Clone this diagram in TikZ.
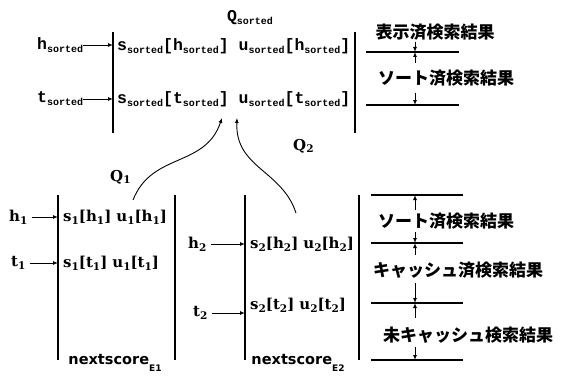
\documentclass[tikz,border=0pt]{standalone}
\usepackage{fontspec}
\usetikzlibrary{arrows.meta}
\newfontfamily\jpf{Noto Sans CJK JP}
\newfontfamily\monof{Liberation Mono}
\newfontfamily\serf{DejaVu Serif}
\newfontfamily\sanf{DejaVu Sans}
\newcommand\sbs[1]{\raisebox{-0.35ex}{\fontsize{10}{10}\selectfont\bfseries #1}}
\newcommand\sbn[1]{\raisebox{-0.35ex}{\fontsize{10.5}{10.5}\selectfont\bfseries #1}}
\tikzset{
  arr/.style={-{Latex[length=5pt,width=4pt]}, line width=0.9pt},
  bar/.style={line width=1.4pt},
  hl/.style={line width=1.2pt},
  mono/.style={inner sep=0pt, anchor=west, font=\monof\bfseries\fontsize{16.5}{16.5}\selectfont},
  serl/.style={inner sep=0pt, anchor=west, font=\serf\bfseries\fontsize{15}{15}\selectfont},
  jp/.style={inner sep=0pt, font=\jpf\bfseries\fontsize{17}{17}\selectfont},
  nsc/.style={inner sep=0pt, font=\sanf\bfseries\fontsize{14.5}{14.5}\selectfont},
  dim/.style={-{Latex[length=5pt,width=4pt]}, line width=1pt}
}
\begin{document}
\begin{tikzpicture}[x=1pt,y=-1pt]
\useasboundingbox (0,0) rectangle (561,377);
% ---------- Q_sorted ----------
\node[inner sep=0pt, font=\monof\bfseries\fontsize{16.5}{16.5}\selectfont] (qs) at (250,18) {Q\sbs{sorted}};
\coordinate (L1a) at (113,32); \coordinate (L1b) at (113,133);
\coordinate (R1a) at (355,32); \coordinate (R1b) at (355,133);
\draw[bar] (L1a) -- (L1b);
\draw[bar] (R1a) -- (R1b);
\node[mono] (hs) at (37,45) {h\sbs{sorted}};
\node[mono] (ts) at (37,99) {t\sbs{sorted}};
\draw[arr] (hs.east) -- (L1a |- hs.east);
\draw[arr] (ts.east) -- (L1a |- ts.east);
\node[mono] (rowh) at (117,46) {s\sbs{sorted}[h\sbs{sorted}] u\sbs{sorted}[h\sbs{sorted}]};
\node[mono] (rowt) at (117,99) {s\sbs{sorted}[t\sbs{sorted}] u\sbs{sorted}[t\sbs{sorted}]};
% right labels top
\coordinate (H1a) at (366,52); \coordinate (H1b) at (459,52);
\coordinate (H2a) at (366,105); \coordinate (H2b) at (459,105);
\draw[hl] (H1a) -- (H1b);
\draw[hl] (H2a) -- (H2b);
\node[jp] (lab1) at (435,32) {表示済検索結果};
\node[jp] (lab2) at (446,78) {ソート済検索結果};
\coordinate (a1) at (415,42); \coordinate (a2) at (415,63); \coordinate (a3) at (415,93);
\draw[dim] (a1) -- (415,52);
\draw[dim] (a2) -- (415,52);
\draw[dim] (a3) -- (415,105);
% ---------- panel 1 ----------
\coordinate (P1La) at (58,195); \coordinate (P1Lb) at (58,360);
\coordinate (P1Ra) at (175,195); \coordinate (P1Rb) at (175,360);
\draw[bar] (P1La) -- (P1Lb);
\draw[bar] (P1Ra) -- (P1Rb);
\node[serl] (h1) at (9,217) {h\sbn{1}};
\node[serl] (t1) at (11,263) {t\sbn{1}};
\draw[arr] ([xshift=4pt]h1.east) -- (P1La |- h1.east);
\draw[arr] ([xshift=4pt]t1.east) -- (P1La |- t1.east);
\node[serl] (r1h) at (63,217) {s\sbn{1}[h\sbn{1}]\,\,u\sbn{1}[h\sbn{1}]};
\node[serl] (r1t) at (63,263) {s\sbn{1}[t\sbn{1}]\,\,u\sbn{1}[t\sbn{1}]};
\node[nsc] (ns1) at (115,363) {nextscore\raisebox{-0.9ex}{\fontsize{9}{9}\selectfont E1}};
\node[serl] (q1) at (110,177) {Q\sbn{1}};
% ---------- panel 2 ----------
\coordinate (P2La) at (245,195); \coordinate (P2Lb) at (245,360);
\coordinate (P2Ra) at (359,195); \coordinate (P2Rb) at (359,360);
\draw[bar] (P2La) -- (P2Lb);
\draw[bar] (P2Ra) -- (P2Rb);
\node[serl] (h2) at (188,244) {h\sbn{2}};
\node[serl] (t2) at (193,313) {t\sbn{2}};
\draw[arr] ([xshift=4pt]h2.east) -- (P2La |- h2.east);
\draw[arr] ([xshift=4pt]t2.east) -- (P2La |- t2.east);
\node[serl] (r2h) at (250,244) {s\sbn{2}[h\sbn{2}]\,\,u\sbn{2}[h\sbn{2}]};
\node[serl] (r2t) at (250,305) {s\sbn{2}[t\sbn{2}]\,\,u\sbn{2}[t\sbn{2}]};
\node[nsc] (ns2) at (298,363) {nextscore\raisebox{-0.9ex}{\fontsize{9}{9}\selectfont E2}};
\node[serl] (q2) at (293,146) {Q\sbn{2}};
% ---------- curves ----------
\coordinate (c1s) at (133,200); \coordinate (c1e) at (222,118);
\coordinate (c2s) at (296,213); \coordinate (c2e) at (237,118);
\draw[arr] (c1s) .. controls (152,152) and (205,168) .. (c1e);
\draw[arr] (c2s) .. controls (282,170) and (235,168) .. (c2e);
% ---------- right labels bottom ----------
\coordinate (B1a) at (371,195); \coordinate (B1b) at (463,195);
\coordinate (B2a) at (371,243); \coordinate (B2b) at (463,243);
\coordinate (B3a) at (371,303); \coordinate (B3b) at (463,303);
\coordinate (B4a) at (371,360); \coordinate (B4b) at (463,360);
\draw[hl] (B1a) -- (B1b);
\draw[hl] (B2a) -- (B2b);
\draw[hl] (B3a) -- (B3b);
\draw[hl] (B4a) -- (B4b);
\node[jp] (lab3) at (446,221) {ソート済検索結果};
\node[jp] (lab4) at (458,270) {キャッシュ済検索結果};
\node[jp] (lab5) at (468,335) {未キャッシュ検索結果};
\draw[dim] (415,210) -- (415,195);
\draw[dim] (415,232) -- (415,243);
\draw[dim] (415,255) -- (415,243);
\draw[dim] (415,283) -- (415,303);
\draw[dim] (415,318) -- (415,303);
\draw[dim] (415,347) -- (415,360);
\end{tikzpicture}
\end{document}
